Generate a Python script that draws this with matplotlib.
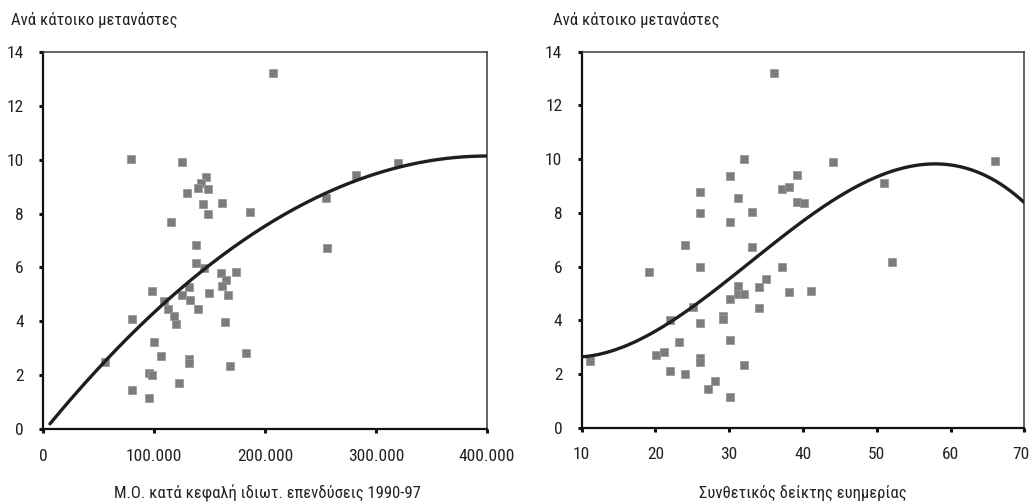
import numpy as np
import matplotlib
matplotlib.use("Agg")
import matplotlib.pyplot as plt
import matplotlib.transforms as mtransforms
from matplotlib.ticker import FuncFormatter

plt.rcParams['font.family'] = ['Roboto Condensed', 'Liberation Sans', 'DejaVu Sans']

# ---------------- data ----------------
y_label = "Ανά κάτοικο μετανάστες"
left_xlabel = "Μ.Ο. κατά κεφαλή ιδιωτ. επενδύσεις 1990-97"
right_xlabel = "Συνθετικός δείκτης ευημερίας"

# left panel: per-capita private investment (x) vs immigrants per inhabitant (y)
left_x = [207.5, 78.8, 124.8, 146.8, 142.3, 139.2, 148.3, 129.6, 143.8, 160.9,
          148.3, 186.2, 115.2, 319.7, 281.8, 254.7, 255.6, 137.4, 137.4, 145.0,
          160.0, 173.8, 164.5, 160.9, 131.7, 124.8, 149.2, 166.3, 97.7, 108.6,
          132.6, 112.2, 139.2, 117.6, 119.7, 79.7, 164.2, 100.2, 105.9, 131.7,
          131.7, 182.9, 168.4, 55.3, 95.0, 97.7, 122.1, 79.7, 95.0]
left_x = [v * 1000 for v in left_x]
left_y = [13.22, 10.02, 9.92, 9.36, 9.14, 8.95, 8.90, 8.77, 8.36, 8.40,
          7.99, 8.04, 7.67, 9.88, 9.41, 8.58, 6.73, 6.83, 6.17, 5.99,
          5.80, 5.84, 5.53, 5.31, 5.26, 4.97, 5.06, 4.97, 5.11, 4.74,
          4.79, 4.46, 4.46, 4.19, 3.91, 4.09, 3.99, 3.22, 2.70, 2.62,
          2.47, 2.84, 2.34, 2.49, 2.10, 2.00, 1.73, 1.45, 1.17]

# left trend line
left_trend_x = [6, 50, 100, 150, 200, 250, 300, 350, 400]
left_trend_x = [v * 1000 for v in left_trend_x]
left_trend_y = [0.2, 2.3, 4.3, 6.05, 7.6, 8.68, 9.45, 9.94, 10.15]

# right panel: composite welfare index (x) vs immigrants per inhabitant (y)
right_x = [36.03, 32.05, 44.07, 66.03, 30.11, 39.15, 37.11, 38.06, 50.94, 26.09,
           31.15, 39.15, 40.10, 26.09, 33.14, 30.11, 24.05, 33.14, 52.02, 19.13,
           26.09, 37.11, 34.99, 31.15, 34.09, 31.15, 32.05, 38.06, 41.09, 30.11,
           34.09, 25.05, 29.11, 29.11, 22.02, 26.09, 23.15, 30.11, 20.08, 21.12,
           26.09, 26.09, 11.13, 22.02, 24.05, 32.05, 28.07, 27.08, 30.11]
right_y = [13.22, 10.00, 9.88, 9.92, 9.37, 9.41, 8.90, 8.95, 9.13, 8.76,
           8.57, 8.39, 8.35, 7.99, 8.03, 7.65, 6.82, 6.73, 6.17, 5.81,
           6.00, 6.00, 5.53, 5.29, 5.25, 4.98, 4.98, 5.06, 5.11, 4.78,
           4.47, 4.48, 4.18, 4.05, 4.01, 3.91, 3.21, 3.26, 2.70, 2.84,
           2.61, 2.46, 2.48, 2.10, 2.02, 2.33, 1.73, 1.46, 1.16]

# right trend line
right_trend_x = [10, 15, 20, 25, 30, 35, 40, 45, 50, 55, 58.5, 62, 66, 70]
right_trend_y = [2.64, 2.95, 3.6, 4.5, 5.5, 6.65, 7.75, 8.62, 9.35, 9.68, 9.8, 9.72, 9.25, 8.35]

left_xticks = [0, 100000, 200000, 300000, 400000]
right_xticks = [10, 20, 30, 40, 50, 60, 70]
yticks = [0, 2, 4, 6, 8, 10, 12, 14]

# ---------------- figure ----------------
W, H = 1032, 503
fig = plt.figure(figsize=(W / 100, H / 100), dpi=100)

ax1 = fig.add_axes([43.3 / W, 1 - 429.3 / H, (486.7 - 43.3) / W, (429.3 - 51.7) / H])
ax2 = fig.add_axes([581.7 / W, 1 - 427.8 / H, (1024.3 - 581.7) / W, (427.8 - 51.7) / H])

mcol = '#7c7c7c'
lcol = '#1e1e1e'
tcol = '#222222'
TICK_FS = 12.5

def style(ax):
    for s in ax.spines.values():
        s.set_color('#3a3a3a')
        s.set_linewidth(1.1)
    ax.spines['left'].set_color('#111111')
    ax.spines['left'].set_linewidth(1.6)
    ax.spines['bottom'].set_color('#111111')
    ax.spines['bottom'].set_linewidth(1.6)
    ax.tick_params(axis='both', direction='out', length=3, width=2.2,
                   color='#111111', labelsize=TICK_FS, labelcolor=tcol)
    ax.tick_params(axis='y', pad=11)
    ax.tick_params(axis='x', pad=11)
    ax.set_ylim(0, 14)
    ax.set_yticks(yticks)

# left
ax1.plot(left_x, left_y, 's', color=mcol, ms=6, mec='#9a9a9a', mew=0.6, zorder=3)
p1 = np.polyfit(np.array(left_trend_x) / 1e5, left_trend_y, 3)
xs1 = np.linspace(left_trend_x[0], left_trend_x[-1], 300)
ax1.plot(xs1, np.polyval(p1, xs1 / 1e5), color=lcol, lw=2.4, zorder=4, solid_capstyle='round')
ax1.set_xlim(0, 400000)
ax1.set_xticks(left_xticks)
ax1.xaxis.set_major_formatter(FuncFormatter(lambda v, p: '0' if v == 0 else f"{int(v):,}".replace(',', '.')))
style(ax1)

# right
ax2.plot(right_x, right_y, 's', color=mcol, ms=6, mec='#9a9a9a', mew=0.6, zorder=3)
p2 = np.polyfit(right_trend_x, right_trend_y, 4)
xs2 = np.linspace(right_trend_x[0], right_trend_x[-1], 300)
ax2.plot(xs2, np.polyval(p2, xs2), color=lcol, lw=2.4, zorder=4, solid_capstyle='round')
ax2.set_xlim(10, 70)
ax2.set_xticks(right_xticks)
style(ax2)

# keep the last label ("70") inside the figure
fig.canvas.draw()
last = ax2.get_xticklabels()[-1]
last.set_transform(last.get_transform() + mtransforms.ScaledTranslation(-3 / 100, 0, fig.dpi_scale_trans))

fig.text(267 / W, 1 - 493 / H, left_xlabel, fontsize=12, color=tcol, va='center', ha='center')
fig.text(803 / W, 1 - 493 / H, right_xlabel, fontsize=12, color=tcol, va='center', ha='center')

fig.text(11 / W, 1 - 20 / H, y_label, fontsize=12, color=tcol, va='center', ha='left')
fig.text(553 / W, 1 - 20 / H, y_label, fontsize=12, color=tcol, va='center', ha='left')

fig.savefig('out.png', dpi=100)
